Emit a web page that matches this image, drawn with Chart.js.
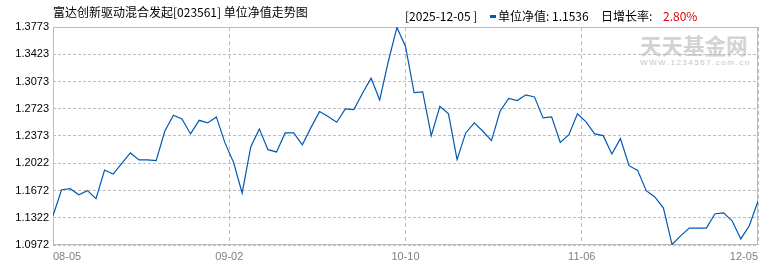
<!DOCTYPE html>
<html>
<head>
<meta charset="utf-8">
<script src="https://cdn.jsdelivr.net/npm/chart.js@4"></script>
<style>
	body { margin: 0; background: #fff; }
	#wrap { position: relative; width: 770px; height: 270px; font-family: "Noto Sans CJK SC", sans-serif; }
	#wrap div { position: absolute; white-space: pre; }
	#chart { position: absolute; left: 0; top: 0; }
	.hd { font-size: 12px; line-height: 14px; color: #000; }
</style>
</head>
<body>
<div id="wrap">
	<div style="left:640px; top:33px; font-size:21.5px; font-weight:bold; color:#d3d3d3; line-height:24px;">天天基金网</div>
	<div style="left:640px; top:58px; font-family:'Liberation Sans'; font-size:8px; letter-spacing:1.5px; color:#c6c6c6; line-height:9px;">WWW.1234567.com.cn</div>
	<canvas id="chart" width="770" height="270"></canvas>
	<div class="hd" style="left:53px; top:5px;">富达创新驱动混合发起[023561] 单位净值走势图</div>
	<div class="hd" style="left:405px; top:9px;">[2025-12-05 ]</div>
	<div style="left:490px; top:15px; width:6px; height:3px; background:#0059b3;"></div>
	<div class="hd" style="left:498px; top:9px;">单位净值: 1.1536</div>
	<div class="hd" style="left:601px; top:9px;">日增长率:</div>
	<div class="hd" style="left:663px; top:9px; color:#dd0000;">2.80%</div>
</div>
<script>
// 单位净值 (08-05 ~ 12-05, trading days)
const navValues = [
	1.1348, 1.1682, 1.1695, 1.1618, 1.1670, 1.1567, 1.1936, 1.1884, 1.2021, 1.2155,
	1.2065, 1.2065, 1.2056, 1.2433, 1.2639, 1.2592, 1.2399, 1.2574, 1.2541, 1.2618,
	1.2284, 1.2034, 1.1640, 1.2232, 1.2464, 1.2197, 1.2168, 1.2412, 1.2412, 1.2260,
	1.2480, 1.2686, 1.2622, 1.2549, 1.2721, 1.2712, 1.2922, 1.3115, 1.2837, 1.3330,
	1.3767, 1.3523, 1.2931, 1.2940, 1.2377, 1.2755, 1.2657, 1.2069, 1.2412, 1.2541,
	1.2433, 1.2313, 1.2690, 1.2854, 1.2828, 1.2901, 1.2875, 1.2605, 1.2618, 1.2291,
	1.2390, 1.2657, 1.2554, 1.2399, 1.2377, 1.2142, 1.2339, 1.1991, 1.1931, 1.1670,
	1.1590, 1.1447, 1.0978, 1.1090, 1.1189, 1.1189, 1.1189, 1.1374, 1.1385, 1.1280,
	1.1050, 1.1222, 1.1536
];
const xTickLabels = ["08-05", "09-02", "10-10", "11-06", "12-05"];
const yTicks = [1.0972, 1.1322, 1.1672, 1.2022, 1.2373, 1.2723, 1.3073, 1.3423, 1.3773];

const gridColor = "#bdbdbd";
const lastIdx = navValues.length - 1;

const frame = {
	id: "frame",
	beforeDatasetsDraw(chart) {
		const {ctx, chartArea: a} = chart;
		ctx.save();
		ctx.strokeStyle = gridColor;
		ctx.lineWidth = 1;
		ctx.setLineDash([]);
		ctx.strokeRect(Math.round(a.left) + 0.5, Math.round(a.top) + 0.5,
			Math.round(a.right - a.left) - 1, Math.round(a.bottom - a.top) - 1);
		ctx.restore();
	}
};

new Chart(document.getElementById("chart"), {
	type: "line",
	data: {
		datasets: [{
			label: "单位净值",
			data: navValues.map((v, i) => ({x: i, y: v})),
			borderColor: "#0059b3",
			borderWidth: 1.2,
			pointRadius: 0,
			tension: 0,
			fill: false
		}]
	},
	options: {
		responsive: false,
		animation: false,
		devicePixelRatio: 1,
		layout: { padding: { top: 27, right: 12, bottom: 0, left: 0 } },
		plugins: { legend: { display: false }, tooltip: { enabled: false } },
		scales: {
			x: {
				type: "linear",
				min: 0,
				max: lastIdx,
				afterBuildTicks: (scale) => {
					scale.ticks = xTickLabels.map((l, k) => ({value: k * lastIdx / (xTickLabels.length - 1)}));
				},
				afterFit: (scale) => { scale.height = 25; },
				ticks: {
					align: "inner",
					autoSkip: false,
					maxRotation: 0,
					padding: 5,
					color: "#808080",
					font: { family: "Liberation Sans", size: 11 },
					callback: (v, i) => xTickLabels[i]
				},
				grid: { color: gridColor, drawTicks: false },
				border: { display: false, dash: [4, 3] }
			},
			y: {
				min: yTicks[0],
				max: yTicks[yTicks.length - 1],
				afterBuildTicks: (scale) => {
					scale.ticks = yTicks.map((v) => ({value: v}));
				},
				afterFit: (scale) => { scale.width = 53; },
				ticks: {
					padding: 4,
					color: "#000",
					font: { family: "Liberation Sans", size: 11 },
					callback: (v) => v.toFixed(4)
				},
				grid: { color: gridColor, drawTicks: false },
				border: { display: false, dash: [3, 2] }
			}
		}
	},
	plugins: [frame]
});
</script>
</body>
</html>
